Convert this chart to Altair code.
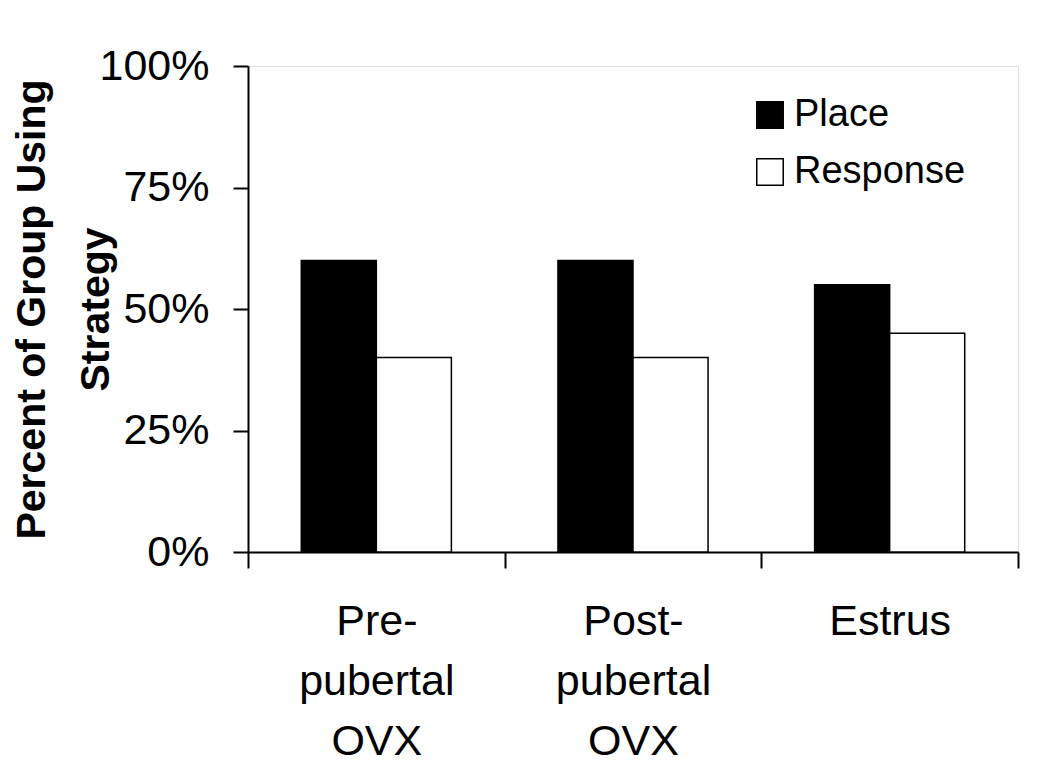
import altair as alt
import pandas as pd

groups = ["Pre-|pubertal|OVX", "Post-|pubertal|OVX", "Estrus"]
strategies = ["Place", "Response"]
place_pct = [0.60, 0.60, 0.55]
response_pct = [0.40, 0.40, 0.45]
y_ticks = [0, 0.25, 0.5, 0.75, 1.0]

rows = []
for g, p, r in zip(groups, place_pct, response_pct):
    rows.append({"group": g, "strategy": "Place", "pct": p})
    rows.append({"group": g, "strategy": "Response", "pct": r})
df = pd.DataFrame(rows)

FONT = "Liberation Sans"

chart = alt.Chart(df).mark_bar(stroke="black", strokeWidth=1.5).encode(
    x=alt.X(
        "group:N",
        sort=groups,
        scale=alt.Scale(paddingInner=0, paddingOuter=0),
        axis=alt.Axis(
            title=None,
            labelAngle=0,
            labelExpr="split(datum.label, '|')",
            labelFontSize=43,
            labelLineHeight=60,
            labelPadding=32,
            labelColor="black",
            labelFont=FONT,
            tickBand="extent",
            tickSize=16,
            tickWidth=2,
            tickColor="black",
            domainColor="black",
            domainWidth=2,
        ),
    ),
    xOffset=alt.XOffset(
        "strategy:N",
        sort=strategies,
        scale=alt.Scale(paddingOuter=0.71, paddingInner=0),
    ),
    y=alt.Y(
        "pct:Q",
        scale=alt.Scale(domain=[0, 1], nice=False),
        axis=alt.Axis(
            title=["Percent of Group Using", "Strategy"],
            titleFontSize=41,
            titleFontWeight="bold",
            titleFont=FONT,
            titleLineHeight=64,
            titleColor="black",
            titlePadding=-18,
            values=y_ticks,
            format=".0%",
            labelFontSize=43,
            labelFont=FONT,
            labelColor="black",
            labelPadding=24,
            tickSize=15,
            tickWidth=2,
            tickColor="black",
            domainColor="black",
            domainWidth=2,
            grid=False,
        ),
    ),
    color=alt.Color(
        "strategy:N",
        sort=strategies,
        scale=alt.Scale(domain=strategies, range=["black", "white"]),
        legend=alt.Legend(
            title=None,
            orient="none",
            legendX=503,
            legendY=30,
            symbolType="square",
            symbolSize=700,
            symbolStrokeColor="black",
            symbolStrokeWidth=1.5,
            labelFontSize=38,
            labelFont=FONT,
            labelColor="black",
            labelOffset=5,
            labelLimit=0,
            rowPadding=19,
        ),
    ),
).properties(
    width=770,
    height=486,
    autosize=alt.AutoSizeParams(type="none"),
    padding={"left": 240, "top": 58, "right": 24, "bottom": 215},
).configure_view(stroke=None).configure(font=FONT, background="white")

chart.save("out.html", embed_options={"renderer": "svg", "actions": False})
